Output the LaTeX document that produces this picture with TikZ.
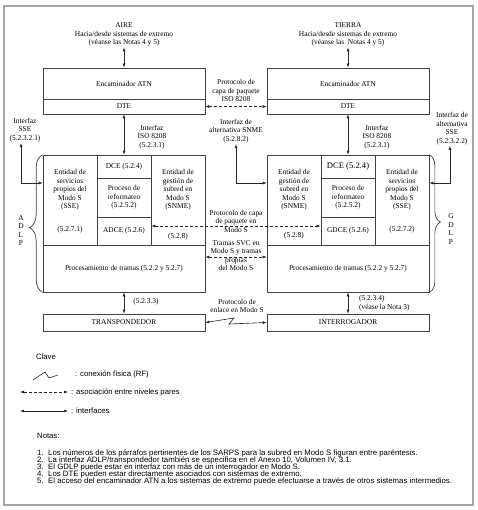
\documentclass[tikz,border=0pt]{standalone}
\usepackage{fontspec}
\setmainfont{Liberation Serif}
\newfontfamily\keyfont{Liberation Sans}
\newcommand\notesize{\fontsize{7.8}{6.85}\selectfont\lineskiplimit=-10pt\relax}
\usetikzlibrary{arrows.meta, decorations.pathreplacing, calc}

\tikzset{
  lbl/.style={align=center, inner sep=1pt, font=\fontsize{7.4}{8.5}\selectfont},
  box/.style={draw=black!75, line width=0.7pt, minimum width=162pt, inner sep=0pt, align=center, font=\fontsize{7.4}{8.5}\selectfont},
  cell/.style={box, minimum width=54pt},
  iface/.style={{Latex[length=4pt,width=3pt]}-{Latex[length=4pt,width=3pt]}, draw=black!85, line width=0.6pt},
  peer/.style={iface, dash pattern=on 3pt off 2pt},
  curly/.style={draw=black!75, line width=0.7pt, decorate, decoration={brace, amplitude=#1}},
  key/.style={font=\keyfont\fontsize{7.7}{9}\selectfont, inner sep=3pt},
}

\begin{document}
\begin{tikzpicture}[x=1pt, y=-1pt]
  \useasboundingbox (0,0) rectangle (477,510);
  \draw[black!35, line width=1.3pt] (4,6) rectangle (473,505);

  % air side
  \node[lbl] (aire) at (124,34.5) {AIRE\\Hacia/desde sistemas de extremo\\(véanse las Notas 4 y 5)};
  \node[box, minimum height=31pt] (atnL) at (124,83.5) {Encaminador ATN};
  \node[box, minimum height=15pt] (dteL) at (124,106.5) {DTE};
  \node[cell, minimum height=90pt] (sseL) at (70,200) {};
  \node[cell, minimum height=23pt] (dceL) at (124,166.5) {DCE (5.2.4)};
  \node[cell, minimum height=39pt] (refL) at (124,197.5) {Proceso de\\reformateo\\(5.2.5.2)};
  \node[cell, minimum height=28pt] (adceL) at (124,231) {ADCE (5.2.6)};
  \node[cell, minimum height=90pt] (snmeL) at (178,200) {};
  \node[box, minimum height=47pt] (procL) at (124,268.5) {Procesamiento de tramas (5.2.2 y 5.2.7)};
  \node[box, minimum height=17pt] (trL) at (124,322.5) {TRANSPONDEDOR};
  \node[lbl] (sseLtxt) at (70,190) {Entidad de\\servicios\\propios del\\Modo S\\(SSE)};
  \node[lbl] (sseLnum) at (70,230) {(5.2.7.1)};
  \node[lbl] (snmeLtxt) at (178,190) {Entidad de\\gestión de\\subred en\\Modo S\\(SNME)};
  \node[lbl] (snmeLnum) at (178,237) {(5.2.8)};

  % ground side
  \node[lbl] (tierra) at (348,34.5) {TIERRA\\Hacia/desde sistemas de extremo\\(véanse las\ \ Notas 4 y 5)};
  \node[box, minimum height=31pt] (atnR) at (348,83.5) {Encaminador ATN};
  \node[box, minimum height=15pt] (dteR) at (348,106.5) {DTE};
  \node[cell, minimum height=90pt] (snmeR) at (294,200) {};
  \node[cell, minimum height=23pt, font=\fontsize{8.6}{10}\selectfont] (dceR) at (348,166.5) {DCE (5.2.4)};
  \node[cell, minimum height=39pt] (refR) at (348,197.5) {Proceso de\\reformateo\\(5.2.5.2)};
  \node[cell, minimum height=28pt] (gdceR) at (348,231) {GDCE (5.2.6)};
  \node[cell, minimum height=90pt] (sseR) at (402,200) {};
  \node[box, minimum height=47pt] (procR) at (348,268.5) {Procesamiento de tramas (5.2.2 y 5.2.7)};
  \node[box, minimum height=17pt] (intR) at (348,322.5) {INTERROGADOR};
  \node[lbl] (snmeRtxt) at (294,190) {Entidad de\\gestión de\\subred en\\Modo S\\(SNME)};
  \node[lbl] (snmeRnum) at (294,236) {(5.2.8)};
  \node[lbl] (sseRtxt) at (402,190) {Entidad de\\servicios\\propios del\\Modo S\\(SSE)};
  \node[lbl] (sseRnum) at (402,230) {(5.2.7.2)};

  % braces
  \draw[curly=13pt, decoration={aspect=0.47}] (procL.south west) -- (sseL.north west);
  \draw[curly=11pt, decoration={aspect=0.49}] (sseR.north east) -- (procR.south east);
  \node[lbl] (adlp) at (21,230.5) {A\\D\\L\\P};
  \node[lbl] (gdlp) at (451,229) {G\\D\\L\\P};

  % link and interface labels
  \node[lbl] (pktiso) at (236,90.5) {Protocolo de\\capa de paquete\\ISO 8208};
  \node[lbl] (isoL) at (152,137) {Interfaz\\ISO 8208\\(5.2.3.1)};
  \node[lbl] (isoR) at (377,137) {Interfaz\\ISO 8208\\(5.2.3.1)};
  \node[lbl] (sseifL) at (25,130) {Interfaz\\SSE\\(5.2.3.2.1)};
  \node[lbl] (sseifR) at (452,128.5) {Interfaz de\\alternativa\\SSE\\(5.2.3.2.2)};
  \node[lbl] (snmeif) at (236,131) {Interfaz de\\alternativa SNME\\(5.2.8.2)};
  \node[lbl] (pktmodes) at (236,221) {Protocolo de capa\\de paquete en\\Modo S};
  \node[lbl] (svc) at (236,255.5) {Tramas SVC en\\Modo S y tramas\\propias\\del Modo S};
  \node[lbl] (enlace) at (237,306) {Protocolo de\\enlace en Modo S};
  \node[lbl] (n5233) at (146,302) {(5.2.3.3)};
  \node[lbl, anchor=west, align=left] (n5234) at (358,303) {(5.2.3.4)\\(véase la Nota 3)};

  % connectors
  \draw[iface] (aire) -- (atnL);
  \draw[iface] (tierra) -- (atnR);
  \draw[peer] (dteL) -- (dteR);
  \draw[iface] (dteL) -- (dceL);
  \draw[iface] (dteR) -- (dceR);
  \draw[iface] ([xshift=-4pt]sseifL.south) |- ([yshift=17pt]sseL.west);
  \draw[iface] ([xshift=-2pt]sseifR.south) |- ([yshift=17pt]sseR.east);
  \draw[iface] (snmeif.south) |- ([yshift=17pt]snmeR.west);
  \draw[peer] ([yshift=5pt]adceL.east) -- ([yshift=5pt]gdceR.west);
  \draw[peer] ([yshift=11.5pt]procL.east) -- ([yshift=11.5pt]procR.west);
  \draw[iface] (procL) -- (trL);
  \draw[iface] (procR) -- (intR);
  \draw[iface] (trL.east) -- (234,318) -- (229,324) -- (intR.west);

  % key
  \node[key] (clave) at (46,357) {Clave};
  \draw[black!85, line width=0.6pt] (33,380) -- (45,372) -- (49,378) -- (58,375);
  \node[key, anchor=west] (krf) at (72,374) {: conexión física (RF)};
  \coordinate (kpeer) at (20,392);
  \node[key, anchor=west] (kpeertxt) at (68,392) {: asociación entre niveles pares};
  \draw[peer] (kpeer) -- (kpeertxt.west);
  \coordinate (kif) at (20,411);
  \node[key, anchor=west] (kiftxt) at (68,411) {: interfaces};
  \draw[iface] (kif) -- (kiftxt.west);

  % notes
  \node[key, anchor=west, inner sep=0pt] (notas) at (37,436) {Notas:};
  \node[anchor=north west, inner sep=0pt, align=left, font=\keyfont\notesize] (notelist) at (37,450) {%
    \makebox[11pt][l]{1.}Los números de los párrafos pertinentes de los SARPS para la subred en Modo S figuran entre paréntesis.\\
    \makebox[11pt][l]{2.}La interfaz ADLP/transpondedor también se especifica en el Anexo 10, Volumen IV, 3.1.\\
    \makebox[11pt][l]{3.}El GDLP puede estar en interfaz con más de un interrogador en Modo S.\\
    \makebox[11pt][l]{4.}Los DTE pueden estar directamente asociados con sistemas de extremo.\\
    \makebox[11pt][l]{5.}El acceso del encaminador ATN a los sistemas de extremo puede efectuarse a través de otros sistemas intermedios.};
\end{tikzpicture}
\end{document}
